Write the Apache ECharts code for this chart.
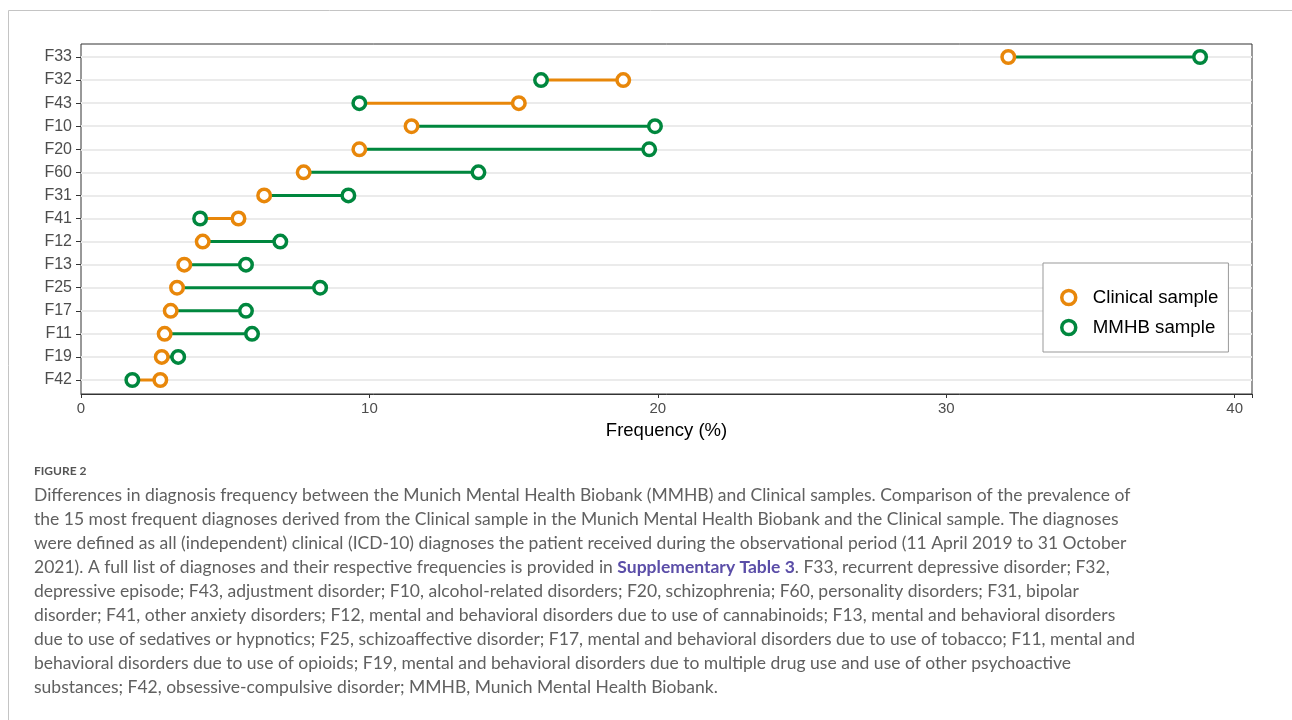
<!DOCTYPE html>
<html>
<head>
<meta charset="utf-8">
<script src="https://cdn.jsdelivr.net/npm/echarts@6/dist/echarts.min.js"></script>
<style>
html, body { margin: 0; padding: 0; background: #fff; }
#chart { width: 1292px; height: 720px; }
</style>
</head>
<body>
<div id="chart"></div>
<script>
// diagnoses, top to bottom
var categories = ['F33', 'F32', 'F43', 'F10', 'F20', 'F60', 'F31', 'F41', 'F12', 'F13', 'F25', 'F17', 'F11', 'F19', 'F42'];
// frequency (%) in each sample
var clinical = [32.15, 18.8, 15.18, 11.46, 9.65, 7.72, 6.35, 5.46, 4.22, 3.58, 3.33, 3.11, 2.9, 2.8, 2.75];
var mmhb = [38.8, 15.95, 9.65, 19.9, 19.7, 13.78, 9.27, 4.13, 6.91, 5.72, 8.29, 5.72, 5.93, 3.37, 1.78];
var xTicks = [0, 10, 20, 30, 40];

var ORANGE = '#E8870A';
var GREEN = '#00873E';
var FONT = 'Liberation Sans, Arial, sans-serif';
var CAPTION_FONT = 'Lato, "Open Sans", sans-serif';

var captionLines1 = [
    'Differences in diagnosis frequency between the Munich Mental Health Biobank (MMHB) and Clinical samples. Comparison of the prevalence of',
    'the 15 most frequent diagnoses derived from the Clinical sample in the Munich Mental Health Biobank and the Clinical sample. The diagnoses',
    'were defined as all (independent) clinical (ICD-10) diagnoses the patient received during the observational period (11 April 2019 to 31 October',
    '2021). A full list of diagnoses and their respective frequencies is provided in '
];
var captionLink = 'Supplementary Table 3';
var captionLines2 = [
    '. F33, recurrent depressive disorder; F32,',
    'depressive episode; F43, adjustment disorder; F10, alcohol-related disorders; F20, schizophrenia; F60, personality disorders; F31, bipolar',
    'disorder; F41, other anxiety disorders; F12, mental and behavioral disorders due to use of cannabinoids; F13, mental and behavioral disorders',
    'due to use of sedatives or hypnotics; F25, schizoaffective disorder; F17, mental and behavioral disorders due to use of tobacco; F11, mental and',
    'behavioral disorders due to use of opioids; F19, mental and behavioral disorders due to multiple drug use and use of other psychoactive',
    'substances; F42, obsessive-compulsive disorder; MMHB, Munich Mental Health Biobank.'
];

var segData = categories.map(function (c, i) {
    return [i, clinical[i], mmhb[i]];
});

var chart = echarts.init(document.getElementById('chart'));

var option = {
    animation: false,
    backgroundColor: '#fff',
    textStyle: { fontFamily: FONT },
    grid: [
        // frame + x axis
        { left: 81, top: 44, width: 1171, height: 350, show: true, borderColor: '#333', borderWidth: 1, backgroundColor: 'transparent' },
        // data area, rows placed like ggplot's discrete scale
        { left: 81, top: 57, width: 1171, height: 323 }
    ],
    xAxis: [
        {
            gridIndex: 0,
            type: 'value',
            min: 0,
            max: 40.6,
            interval: 10,
            axisLine: { show: true, lineStyle: { color: '#333', width: 1 } },
            axisTick: { show: true, length: 4, lineStyle: { color: '#333' } },
            axisLabel: {
                color: '#4d4d4d', fontSize: 15, margin: 7, fontFamily: FONT,
                formatter: function (v) { return xTicks.indexOf(v) >= 0 ? String(v) : ''; }
            },
            splitLine: { show: false },
            name: 'Frequency (%)',
            nameLocation: 'middle',
            nameGap: 27,
            nameTextStyle: { color: '#000', fontSize: 18.5, fontFamily: FONT }
        },
        { gridIndex: 1, type: 'value', min: 0, max: 40.6, show: false }
    ],
    yAxis: [
        { gridIndex: 0, type: 'value', min: 0, max: 1, show: false },
        {
            gridIndex: 1,
            type: 'category',
            data: categories,
            inverse: true,
            boundaryGap: false,
            axisLine: { show: false },
            axisTick: { show: true, length: 5, lineStyle: { color: '#333' } },
            axisLabel: { color: '#4d4d4d', fontSize: 16, margin: 9, fontFamily: FONT },
            splitLine: { show: true, lineStyle: { color: '#ebebeb', width: 2 } }
        }
    ],
    legend: {
        orient: 'vertical',
        left: 1043,
        top: 263,
        padding: [25, 10, 15, 17],
        itemWidth: 38,
        itemHeight: 14,
        itemGap: 11,
        backgroundColor: '#fff',
        borderColor: '#999',
        borderWidth: 1,
        itemStyle: { borderWidth: 3.5 },
        textStyle: { color: '#000', fontSize: 18.7, fontFamily: FONT },
        data: ['Clinical sample', 'MMHB sample']
    },
    series: [
        {
            type: 'custom',
            name: 'segments',
            xAxisIndex: 1,
            yAxisIndex: 1,
            z: 2,
            encode: { x: [1, 2], y: 0 },
            data: segData,
            renderItem: function (params, api) {
                var a = api.value(1), b = api.value(2);
                var p1 = api.coord([a, api.value(0)]);
                var p2 = api.coord([b, api.value(0)]);
                return {
                    type: 'line',
                    shape: { x1: p1[0], y1: p1[1], x2: p2[0], y2: p2[1] },
                    style: { stroke: b > a ? GREEN : ORANGE, lineWidth: 3 }
                };
            }
        },
        {
            type: 'scatter',
            name: 'Clinical sample',
            xAxisIndex: 1,
            yAxisIndex: 1,
            z: 3,
            symbol: 'circle',
            symbolSize: 12.5,
            itemStyle: { color: '#fff', borderColor: ORANGE, borderWidth: 3.5, opacity: 1 },
            data: clinical.map(function (v, i) { return [v, categories[i]]; })
        },
        {
            type: 'scatter',
            name: 'MMHB sample',
            xAxisIndex: 1,
            yAxisIndex: 1,
            z: 3,
            symbol: 'circle',
            symbolSize: 12.5,
            itemStyle: { color: '#fff', borderColor: GREEN, borderWidth: 3.5, opacity: 1 },
            data: mmhb.map(function (v, i) { return [v, categories[i]]; })
        }
    ],
    graphic: [
        {
            type: 'polyline',
            silent: true,
            shape: { points: [[1292, 10.5], [8.5, 10.5], [8.5, 720]] },
            style: { stroke: '#c4c4c4', lineWidth: 1, fill: null }
        },
        {
            type: 'text',
            left: 34,
            top: 465,
            silent: true,
            style: { text: 'FIGURE 2', fill: '#555', font: 'bold 12px ' + CAPTION_FONT }
        },
        {
            type: 'text',
            left: 34,
            top: 486,
            silent: true,
            style: {
                text: '{a|' + captionLines1.join('\n') + '}{b|' + captionLink + '}{a|' + captionLines2.join('\n') + '}',
                rich: {
                    a: { fontFamily: CAPTION_FONT, fontSize: 17.5, lineHeight: 24, fill: '#606060' },
                    b: { fontFamily: CAPTION_FONT, fontSize: 17.5, lineHeight: 24, fontWeight: 'bold', fill: '#5b4ea8' }
                }
            }
        }
    ]
};

chart.setOption(option);
</script>
</body>
</html>
